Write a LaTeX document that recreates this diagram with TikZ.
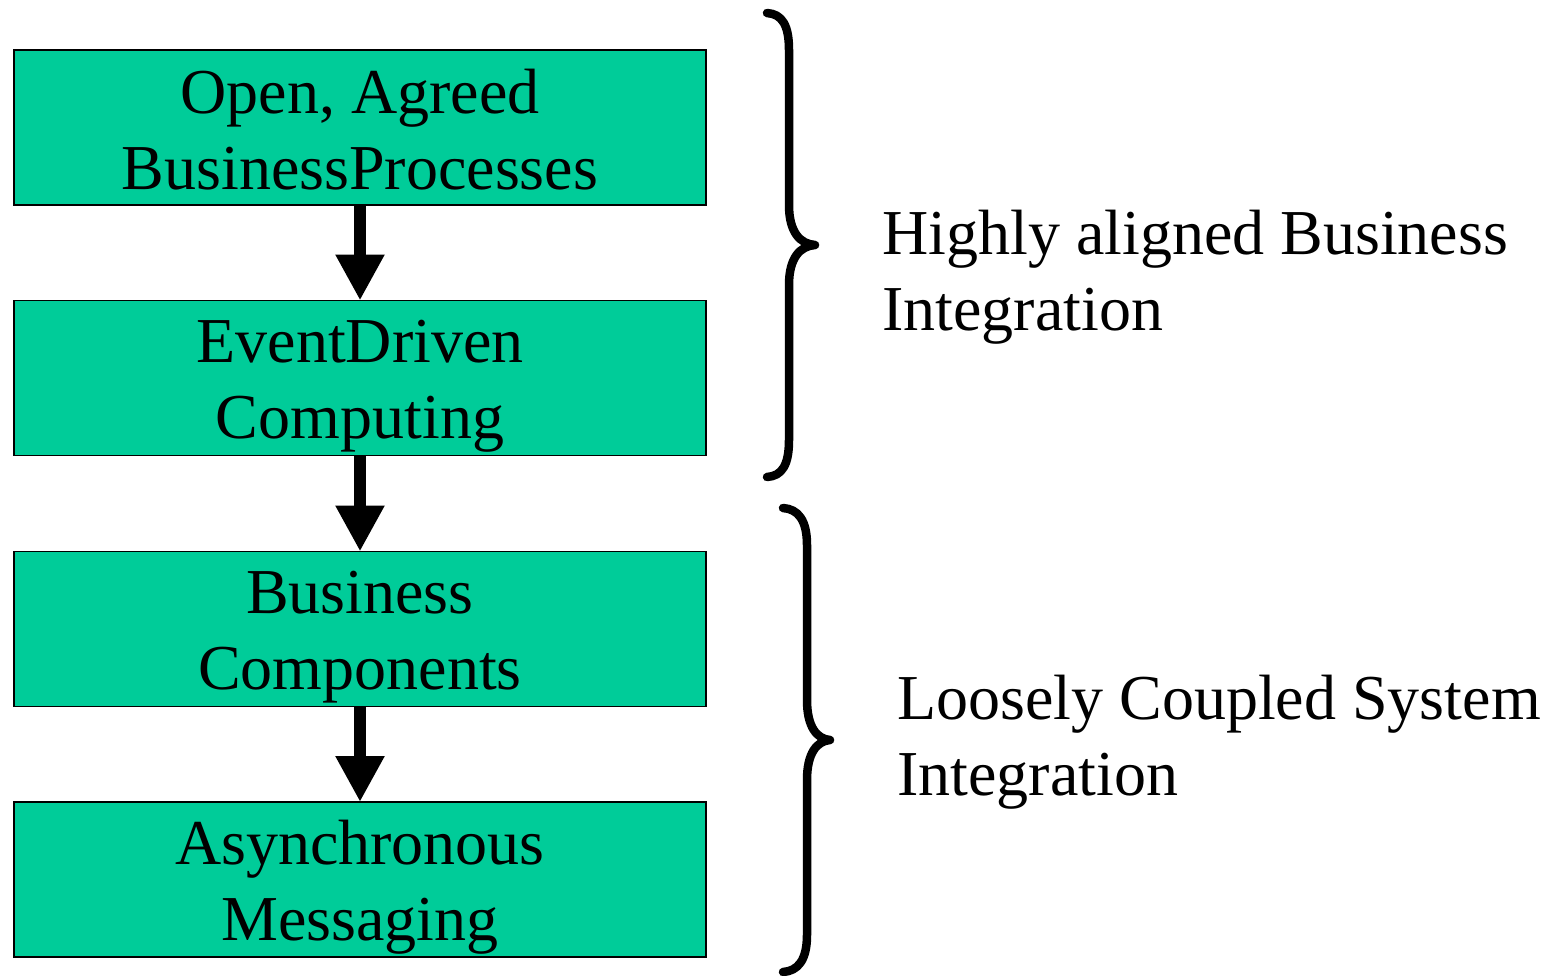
\documentclass[tikz,border=0pt]{standalone}
\usepackage{fontspec}
\setmainfont{Liberation Serif}
\usetikzlibrary{arrows.meta}
\definecolor{boxgreen}{RGB}{0,204,153}
\begin{document}
\begin{tikzpicture}[x=1pt,y=-1pt,
  box/.style={draw=black,line width=1.5pt,fill=boxgreen,minimum width=692pt,minimum height=155pt,inner sep=0pt,outer sep=0pt},
  boxtext/.style={anchor=base,align=center,inner sep=0pt,font=\fontsize{64}{76}\selectfont},
  sidetext/.style={anchor=base west,align=left,inner sep=0pt,font=\fontsize{64}{76}\selectfont},
  flow/.style={line width=12pt,-{Triangle[length=46pt,width=46pt]}},
  brace/.style={line width=8.5pt,line cap=round,line join=round}]
\useasboundingbox (0,0) rectangle (1564,975);
\node[box] (b1) at (360,127.5) {};
\node[box] (b2) at (360,378) {};
\node[box] (b3) at (360,629) {};
\node[box] (b4) at (360,879.5) {};
\node[boxtext] (t1) at ([yshift=-62pt]b1.center) {Open, Agreed\\BusinessProcesses};
\node[boxtext] (t2) at ([yshift=-60pt]b2.center) {EventDriven\\Computing};
\node[boxtext] (t3) at ([yshift=-60pt]b3.center) {Business\\Components};
\node[boxtext] (t4) at ([yshift=-60.5pt]b4.center) {Asynchronous\\Messaging};
\draw[flow] (b1.south) -- (b2.north);
\draw[flow] (b2.south) -- (b3.north);
\draw[flow] (b3.south) -- (b4.north);
\draw[brace] (767,13) .. controls (782,14) and (789,25) .. (789,50) -- (789,205)
  .. controls (789,232) and (800,244) .. (815,245)
  .. controls (800,246) and (789,258) .. (789,285) -- (789,440)
  .. controls (789,465) and (782,476) .. (767,477);
\draw[brace] (783,508) .. controls (798,509) and (807,520) .. (807,545) -- (807,700)
  .. controls (807,727) and (817,739) .. (830,740)
  .. controls (817,741) and (807,753) .. (807,780) -- (807,935)
  .. controls (807,960) and (798,971) .. (783,972);
\node[sidetext] (s1) at (882,330) {Highly aligned Business\\Integration};
\node[sidetext] (s2) at (897,795) {Loosely Coupled System\\Integration};
\end{tikzpicture}
\end{document}
